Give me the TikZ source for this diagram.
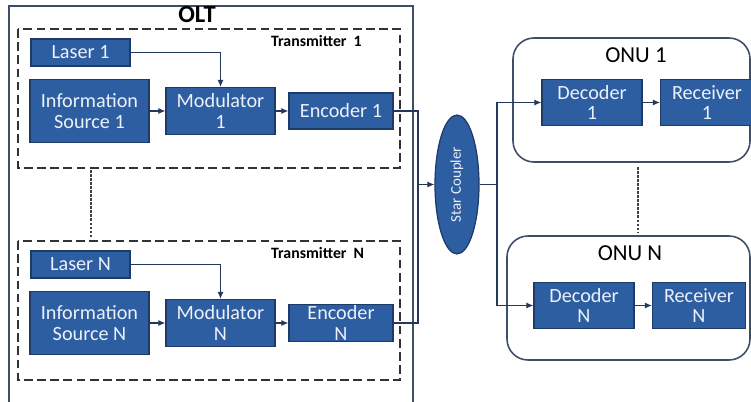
\documentclass[tikz,border=0pt]{standalone}
\usepackage{fontspec}
\setmainfont{Carlito}
\usepackage{xcolor}
\usetikzlibrary{positioning}
\usetikzlibrary{arrows.meta}
\usetikzlibrary{shapes.geometric}
\definecolor{blkfill}{RGB}{46,94,162}
\definecolor{blkline}{RGB}{30,58,102}
\definecolor{blktext}{RGB}{236,240,248}
\definecolor{wireclr}{RGB}{36,56,92}
\definecolor{frameclr}{RGB}{60,78,104}

\begin{document}
\begin{tikzpicture}[x=0.02cm,y=-0.02cm,
  blk/.style={draw=blkline, fill=blkfill, text=blktext, line width=0.7pt, align=center, inner sep=1pt, font=\fontsize{11.5}{11.5}\selectfont},
  coupler/.style={ellipse, draw=blkline, fill=blkfill, text=blktext, line width=0.7pt, inner sep=0pt, rotate=90, font=\fontsize{8.5}{9}\selectfont},
  wire/.style={draw=wireclr, line width=0.7pt},
  arr/.style={wire, -{Latex[length=4pt,width=3.5pt]}},
  txbox/.style={draw=black!80, line width=1.1pt, dash pattern=on 5pt off 2.5pt},
  onubox/.style={draw=frameclr, line width=0.9pt, rounded corners=0.42cm},
  gap/.style={draw=black!75, line width=0.9pt, dash pattern=on 1.6pt off 0.7pt}]
\useasboundingbox (0,0) rectangle (751,402);
% OLT frame
\draw[draw=frameclr, line width=1pt] (9,6) rectangle (413,410);
\node[font=\fontsize{14}{14}\selectfont\bfseries] (olt) at (197,15) {OLT};
% draw transmitters
\foreach \i/\dy/\enc in {1/0/{Encoder 1}, N/212/{Encoder\\N}} {
\draw[txbox] (18,29+\dy) rectangle (400,168+\dy);
\node[anchor=west, font=\fontsize{9}{9}\selectfont\bfseries] (tx\i) at (265,41+\dy) {Transmitter\ \ \i};
\node[blk, minimum width=1.98cm, minimum height=0.54cm] (las\i) at (80.5,52.5+\dy) {Laser \i};
\node[blk, minimum width=2.38cm, minimum height=1.26cm] (src\i) at (89.5,111+\dy) {Information\\Source \i};
\node[blk, minimum width=2.18cm, minimum height=0.94cm] (mod\i) at (220.5,111+\dy) {Modulator\\\i};
\node[blk, minimum width=2.08cm, minimum height=0.72cm] (enc\i) at (341,111+\dy) {\enc};
\draw[arr] (las\i) -| (mod\i);
\draw[arr] (src\i) -- (mod\i);
\draw[arr] (mod\i) -- (enc\i);
}
\draw[gap] (91,170) -- (91,238);
% star coupler (rotated, so north is its left side)
\node[coupler, minimum width=2.78cm, minimum height=0.88cm] (star) at (457,184.5) {Star Coupler};
\coordinate (bus) at (418,184.5);
\coordinate (split) at (497,184.5);
\draw[wire] (enc1.east) -| (bus);
\draw[wire] (encN.east) -| (bus);
\draw[arr] (bus) -- (star.north);
\draw[wire] (star.south) -- (split);
% draw ONUs
\foreach \j/\bx/\by/\dx/\dy in {1/513/38/592/102.5, N/507/236/584/305.5} {
\draw[onubox] (\bx,\by) rectangle (750,\by+124);
\node[font=\fontsize{13}{13}\selectfont] (onu\j) at (\bx+123,\by+17) {ONU \j};
\node[blk, minimum width=2cm, minimum height=0.92cm] (dec\j) at (\dx,\dy) {Decoder\\\j};
\node[blk, minimum width=1.86cm, minimum height=0.92cm] (rec\j) at (\dx+115,\dy) {Receiver\\\j};
\draw[arr] (split) |- (dec\j);
\draw[arr] (dec\j) -- (rec\j);
}
\draw[gap] (638,167) -- (638,232);
\end{tikzpicture}
\end{document}
